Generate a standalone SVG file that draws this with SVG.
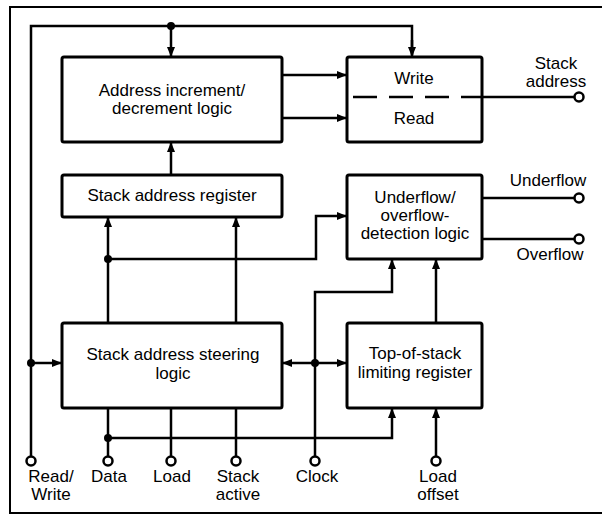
<svg xmlns="http://www.w3.org/2000/svg" width="602" height="514" viewBox="0 0 602 514">
<style>
.box{fill:#fff;stroke:#000;stroke-width:3}
.open{fill:none}
.w{fill:none;stroke:#000;stroke-width:2.5}
.a{fill:none;stroke:#000;stroke-width:2.5;marker-end:url(#ah)}
.dash{fill:none;stroke:#000;stroke-width:2.5;stroke-dasharray:24,12;stroke-dashoffset:-4}
.dot{fill:#000}
.term{fill:#fff;stroke:#000;stroke-width:2.5}
text{font-family:"Liberation Sans",Arial,sans-serif;font-size:17px;fill:#000;text-anchor:middle}
</style>
<defs>
<marker id="ah" viewBox="0 0 10 8" refX="10" refY="4" markerWidth="10" markerHeight="8" markerUnits="userSpaceOnUse" orient="auto">
<path d="M0,0 L10,4 L0,8 z" fill="#000"/>
</marker>
</defs>
<rect x="0" y="0" width="602" height="514" fill="#fff"/>
<path d="M602,7 H10 V513 H602" fill="none" stroke="#000" stroke-width="2"/>

<g id="addr-incdec">
  <rect class="box" x="62" y="57" width="220" height="85" rx="2"/>
  <text x="172" y="96">Address increment/</text>
  <text x="172" y="114">decrement logic</text>
</g>
<g id="write-read">
  <rect class="box" x="347" y="57" width="135" height="85" rx="2"/>
  <text x="414" y="84">Write</text>
  <text x="414" y="124">Read</text>
</g>
<g id="stack-addr-reg">
  <rect class="box" x="62" y="175" width="220" height="42" rx="2"/>
  <text x="172" y="201">Stack address register</text>
</g>
<g id="uo-detect">
  <rect class="box" x="347" y="175" width="135" height="84" rx="2"/>
  <text x="415" y="203">Underflow/</text>
  <text x="415" y="221">overflow-</text>
  <text x="415" y="239">detection logic</text>
</g>
<g id="steering">
  <rect class="box" x="62" y="323" width="220" height="85" rx="2"/>
  <text x="173" y="360">Stack address steering</text>
  <text x="173" y="379">logic</text>
</g>
<g id="top-of-stack">
  <rect class="box" x="347" y="323" width="135" height="85" rx="2"/>
  <text x="415" y="359">Top-of-stack</text>
  <text x="415" y="378">limiting register</text>
</g>

<g id="connectors">
  <path class="w" d="M31,456 V26 H412 V55"/>
  <path class="a" d="M412,40 V57"/>
  <path class="a" d="M171,26 V57"/>
  <path class="a" d="M282,75 H347"/>
  <path class="a" d="M282,118 H347"/>
  <path class="dash" d="M349,97 H482"/>
  <path class="w" d="M482,97 H574"/>
  <path class="a" d="M171,175 V142"/>
  <path class="a" d="M108,323 V217"/>
  <path class="a" d="M236,323 V217"/>
  <path class="a" d="M108,259 H316 V216 H347"/>
  <path class="w" d="M482,198 H574"/>
  <path class="w" d="M482,239 H574"/>
  <path class="a" d="M315,456 V292 H392 V259"/>
  <path class="a" d="M436,323 V259"/>
  <path class="a" d="M31,363 H62"/>
  <path class="a" d="M315,363 H282"/>
  <path class="a" d="M315,363 H347"/>
  <path class="w" d="M108,456 V408"/>
  <path class="w" d="M171,456 V408"/>
  <path class="w" d="M236,456 V408"/>
  <path class="a" d="M108,438 H392 V408"/>
  <path class="a" d="M436,456 V408"/>
  <circle class="dot" cx="171" cy="26" r="4"/>
  <circle class="dot" cx="108" cy="259" r="4"/>
  <circle class="dot" cx="31" cy="363" r="4"/>
  <circle class="dot" cx="315" cy="363" r="4"/>
  <circle class="dot" cx="108" cy="438" r="4"/>
</g>

<g id="t-stack-address">
  <circle class="term" cx="579" cy="97" r="4.5"/>
  <text x="556" y="69">Stack</text>
  <text x="556" y="87">address</text>
</g>
<g id="t-underflow">
  <circle class="term" cx="579" cy="198" r="4.5"/>
  <text x="548" y="186">Underflow</text>
</g>
<g id="t-overflow">
  <circle class="term" cx="579" cy="239" r="4.5"/>
  <text x="550" y="260">Overflow</text>
</g>
<g id="t-readwrite">
  <circle class="term" cx="31" cy="461" r="4.5"/>
  <text x="51" y="482">Read/</text>
  <text x="51" y="500">Write</text>
</g>
<g id="t-data">
  <circle class="term" cx="108" cy="461" r="4.5"/>
  <text x="109" y="482">Data</text>
</g>
<g id="t-load">
  <circle class="term" cx="171" cy="461" r="4.5"/>
  <text x="172" y="482">Load</text>
</g>
<g id="t-stack-active">
  <circle class="term" cx="236" cy="461" r="4.5"/>
  <text x="238" y="482">Stack</text>
  <text x="238" y="500">active</text>
</g>
<g id="t-clock">
  <circle class="term" cx="315" cy="461" r="4.5"/>
  <text x="317" y="482">Clock</text>
</g>
<g id="t-load-offset">
  <circle class="term" cx="436" cy="461" r="4.5"/>
  <text x="438" y="482">Load</text>
  <text x="438" y="500">offset</text>
</g>
</svg>
